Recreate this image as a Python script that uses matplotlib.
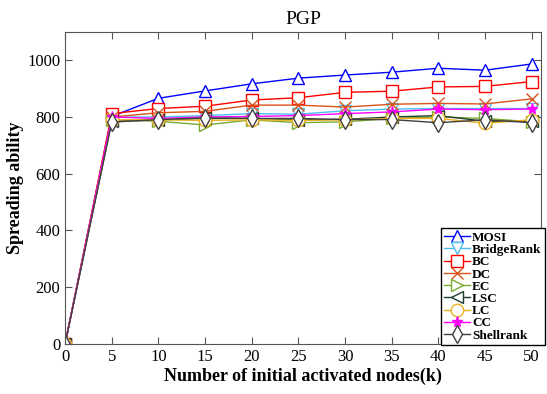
import matplotlib.pyplot as plt

k = [0, 5, 10, 15, 20, 25, 30, 35, 40, 45, 50]

mosi = [0, 802, 866, 892, 917, 937, 948, 958, 972, 965, 987]
bridgerank = [0, 800, 800, 805, 812, 810, 822, 828, 830, 830, 830]
bc = [0, 812, 830, 838, 860, 868, 887, 891, 906, 908, 925]
dc = [0, 800, 815, 820, 842, 842, 835, 845, 848, 846, 864]
ec = [0, 790, 785, 772, 790, 780, 783, 795, 800, 795, 783]
lsc = [0, 785, 790, 795, 795, 790, 792, 800, 805, 785, 785]
lc = [0, 790, 790, 788, 790, 788, 790, 795, 795, 778, 790]
cc = [0, 800, 795, 800, 802, 805, 812, 818, 828, 826, 828]
shellrank = [0, 782, 791, 797, 795, 795, 791, 791, 780, 790, 780]

series = [
    ("MOSI", mosi, "#0000FF", "^"),
    ("BridgeRank", bridgerank, "#4DBEEE", "v"),
    ("BC", bc, "#FF0000", "s"),
    ("DC", dc, "#D95319", "x"),
    ("EC", ec, "#77AC30", ">"),
    ("LSC", lsc, "#1E3D2A", "<"),
    ("LC", lc, "#EDB120", "o"),
    ("CC", cc, "#FF00FF", "*"),
    ("Shellrank", shellrank, "#404040", "d"),
]


def main():
    plt.rcParams["font.family"] = "Liberation Serif"

    fig = plt.figure(figsize=(5.47, 3.94), dpi=100)
    ax = fig.add_axes([0.119, 0.127, 0.870, 0.792])

    for name, vals, color, marker in series:
        if marker in ("x", "*"):
            ax.plot(k, vals, color=color, marker=marker, markersize=8,
                    linewidth=1.0, label=name)
        else:
            ax.plot(k, vals, color=color, marker=marker, markersize=9,
                    markerfacecolor="white", markeredgewidth=1.0,
                    linewidth=1.0, label=name)

    ax.set_xlim(0, 51)
    ax.set_ylim(0, 1100)
    ax.set_xticks(range(0, 51, 5))
    ax.set_yticks(range(0, 1001, 200))
    ax.tick_params(direction="in", top=True, right=True, labelsize=12,
                   color="#555555", length=5)
    for s in ax.spines.values():
        s.set_color("#555555")

    ax.set_title("PGP", fontsize=14, pad=6)
    ax.set_xlabel("Number of initial activated nodes(k)", fontsize=13,
                  fontweight="bold", labelpad=2)
    ax.set_ylabel("Spreading ability", fontsize=13, fontweight="bold",
                  labelpad=2)

    leg = ax.legend(loc="lower right", prop={"weight": "bold", "size": 9.5},
                    bbox_to_anchor=(545 / 547, 1 - 345 / 394),
                    bbox_transform=fig.transFigure,
                    fancybox=False, edgecolor="black", framealpha=1,
                    handlelength=2.0, labelspacing=0.0, borderpad=0.25,
                    handletextpad=0.15, borderaxespad=0.0)
    leg.get_frame().set_linewidth(1.0)

    fig.savefig("out.png", dpi=100)


if __name__ == "__main__":
    main()
